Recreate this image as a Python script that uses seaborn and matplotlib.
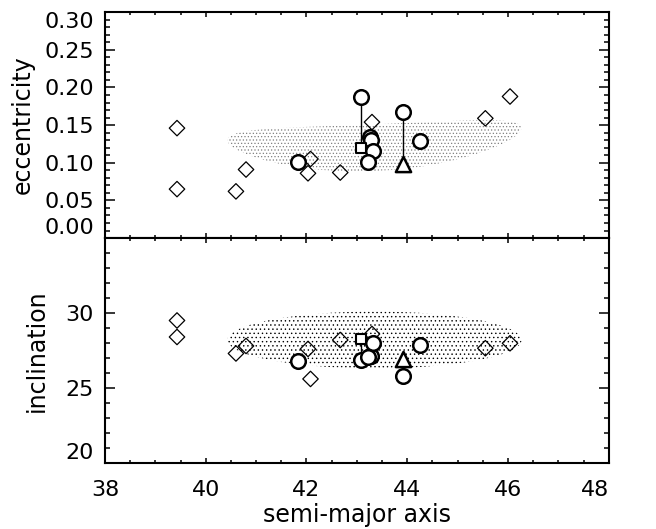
import numpy as np
import matplotlib
matplotlib.use("Agg")
import matplotlib.pyplot as plt
import seaborn as sns
from matplotlib.patches import Polygon, Ellipse
from matplotlib.ticker import MultipleLocator

# diamonds (open symbols)
diam_a = [39.43, 39.43, 40.60, 40.80, 42.08, 42.03, 42.67, 43.30, 45.55, 46.04]
diam_e = [0.146, 0.065, 0.062, 0.091, 0.105, 0.086, 0.087, 0.154, 0.159, 0.188]
diam_i = [29.50, 28.40, 27.30, 27.80, 25.60, 27.60, 28.20, 28.60, 27.65, 27.98]

# circles
circ_a = [41.84, 43.09, 43.27, 43.29, 43.32, 43.23, 43.91, 44.25]
circ_e = [0.101, 0.187, 0.134, 0.130, 0.116, 0.101, 0.168, 0.129]
circ_i = [26.82, 26.87, 27.10, 27.15, 28.00, 27.05, 25.80, 27.87]

# square and triangle, each tied to one circle by a line
sq_a, sq_e, sq_i = [43.09], [0.120], [28.25]
tri_a, tri_e, tri_i = [43.91], [0.099], [26.90]

xticks = [38, 40, 42, 44, 46, 48]
e_ticks = [0.00, 0.05, 0.10, 0.15, 0.20, 0.25, 0.30]
i_ticks = [20, 25, 30]

# stippled population regions (center, half-widths)
cloud_a0, cloud_da = 43.35, 2.92
cloud_e0, cloud_de = 0.120, 0.031
cloud_i0, cloud_di = 28.2, 1.9

sns.set_style("ticks")
plt.rcParams["font.family"] = ["DejaVu Sans"]
plt.rcParams["hatch.linewidth"] = 0.5
plt.rcParams["text.color"] = "black"
plt.rcParams["axes.labelcolor"] = "black"

fig = plt.figure(figsize=(6.56, 5.29), dpi=100)
ax1 = fig.add_axes([0.160, 0.550, 0.768, 0.427])
ax2 = fig.add_axes([0.160, 0.125, 0.768, 0.425], sharex=ax1)

# top cloud: slightly bent band
u = np.linspace(-1, 1, 200)
ca = cloud_a0 + cloud_da * u
cmid = cloud_e0 + 0.008 * u + 0.018 * u ** 2
ch = cloud_de * np.sqrt(1 - u ** 2)
verts = np.column_stack([np.r_[ca, ca[::-1]], np.r_[cmid + ch, (cmid - ch)[::-1]]])
ax1.add_patch(Polygon(verts, closed=True, facecolor="none", edgecolor="0.5",
                      linewidth=0, hatch="....."))
ax2.add_patch(Ellipse((cloud_a0, cloud_i0), 2 * cloud_da, 2 * cloud_di,
                      facecolor="none", edgecolor="black", linewidth=0, hatch="...."))

for ax, yd, yc, ys, yt in [(ax1, diam_e, circ_e, sq_e, tri_e),
                           (ax2, diam_i, circ_i, sq_i, tri_i)]:
    ax.plot([circ_a[1], sq_a[0]], [yc[1], ys[0]], color="black", lw=1, zorder=2)
    ax.plot([circ_a[6], tri_a[0]], [yc[6], yt[0]], color="black", lw=1, zorder=2)
    sns.scatterplot(x=diam_a, y=yd, ax=ax, marker="D", s=62, facecolor="none",
                    edgecolor="black", linewidth=0.9, zorder=3)
    sns.scatterplot(x=circ_a, y=yc, ax=ax, marker="o", s=110, color="white",
                    edgecolor="black", linewidth=1.8, zorder=4)
    sns.scatterplot(x=sq_a, y=ys, ax=ax, marker="s", s=52, color="white",
                    edgecolor="black", linewidth=1.5, zorder=4)
    sns.scatterplot(x=tri_a, y=yt, ax=ax, marker="^", s=120, color="white",
                    edgecolor="black", linewidth=1.8, zorder=4)

    ax.tick_params(which="both", direction="in", top=True, right=True,
                   width=1.1, labelsize=16, colors="black")
    ax.tick_params(axis="y", which="major", length=7.5, pad=8)
    ax.tick_params(axis="y", which="minor", length=3.8)
    ax.tick_params(axis="x", which="major", length=3.5, pad=12)
    ax.tick_params(axis="x", which="minor", length=2)
    for sp in ax.spines.values():
        sp.set_linewidth(1.5)
        sp.set_color("black")

ax1.set_xlim(38, 48)
ax1.set_xticks(xticks)
ax1.xaxis.set_minor_locator(MultipleLocator(0.5))
ax1.tick_params(labelbottom=False)

ax1.set_ylim(0, 0.30)
ax1.set_yticks(e_ticks, [f"{t:.2f}" for t in e_ticks])
ax1.yaxis.set_minor_locator(MultipleLocator(0.01))
ax2.set_ylim(20, 35)
ax2.set_yticks(i_ticks, [str(t) for t in i_ticks])
ax2.yaxis.set_minor_locator(MultipleLocator(1))

labs = ax1.get_yticklabels()
labs[0].set_va("bottom")
labs[-1].set_va("top")
ax2.get_yticklabels()[0].set_va("bottom")
ax2.get_xticklabels()[-1].set_ha("right")

ax1.set_ylabel("eccentricity", fontsize=17, va="center")
ax1.yaxis.set_label_coords(-0.163, 0.5)
ax2.set_ylabel("inclination", fontsize=17, va="center")
ax2.yaxis.set_label_coords(-0.135, 0.5)
ax2.set_xlabel("semi-major axis", fontsize=17, va="top")
ax2.xaxis.set_label_coords(0.5, -0.18)

fig.savefig("out.png", dpi=100)
